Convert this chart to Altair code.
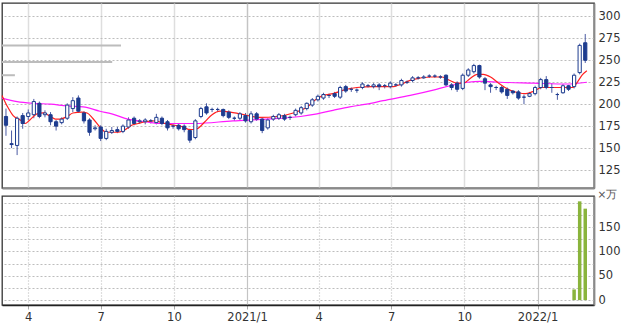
import altair as alt
import pandas as pd

# ---------------- data (weekly candles) ----------------
start_date = "2020-03-04"
opens = [186, 155, 153, 187, 186, 188, 201, 188, 188, 180, 179, 184, 195, 207, 190, 182, 172, 174, 161, 168,
         171, 169, 174, 184, 180, 180, 181, 179, 184, 180, 175, 176, 175, 170, 162, 186, 197, 194, 194, 194,
         191, 184, 184, 187, 180, 189, 183, 173, 183, 184, 187, 185, 188, 190, 195, 199, 205, 207, 210, 212,
         208, 220, 217, 216, 219, 221, 220, 222, 221, 220, 222, 222, 225, 227, 230, 230, 232, 232, 231, 233,
         222, 224, 218, 233, 237, 244, 229, 222, 219, 219, 217, 215, 214, 208, 209, 212, 219, 228, 219, 211,
         213, 221, 220, 236, 270]
closes = [176, 154, 184, 178, 190, 203, 186, 190, 180, 175, 183, 199, 204, 192, 181, 168, 173, 161, 169, 170,
          169, 175, 182, 178, 181, 182, 181, 185, 178, 173, 175, 172, 171, 159, 181, 195, 190, 194, 194, 187,
          185, 184, 189, 181, 189, 183, 170, 182, 186, 188, 183, 185, 193, 196, 201, 205, 209, 211, 210, 209,
          219, 215, 217, 216, 223, 221, 222, 220, 221, 224, 222, 227, 225, 230, 230, 231, 232, 232, 231, 222,
          219, 217, 233, 239, 244, 231, 224, 220, 219, 214, 210, 213, 207, 208, 212, 219, 228, 219, 219, 211,
          221, 217, 233, 267, 250]
highs = [195, 170, 186, 190, 194, 206, 203, 193, 191, 182, 185, 201, 208, 210, 192, 184, 176, 176, 172, 174,
         174, 177, 185, 186, 183, 184, 183, 189, 186, 182, 177, 178, 177, 172, 183, 197, 201, 196, 196, 195,
         193, 186, 191, 190, 192, 191, 185, 184, 188, 190, 189, 187, 195, 198, 202, 207, 211, 213, 212, 214,
         221, 222, 219, 218, 225, 223, 224, 224, 223, 226, 224, 229, 227, 232, 232, 233, 234, 234, 233, 234,
         224, 226, 235, 241, 246, 245, 231, 224, 221, 221, 219, 216, 216, 211, 214, 221, 230, 232, 224, 213,
         223, 222, 235, 269, 280]
lows = [164, 150, 142, 172, 182, 184, 184, 185, 176, 170, 177, 182, 191, 190, 178, 164, 170, 158, 159, 166,
        167, 167, 172, 176, 178, 177, 178, 177, 176, 170, 172, 170, 168, 156, 160, 184, 188, 191, 191, 185,
        183, 181, 182, 179, 178, 181, 167, 171, 181, 182, 181, 182, 186, 188, 193, 197, 203, 205, 207, 207,
        206, 213, 214, 213, 217, 219, 218, 216, 218, 218, 220, 220, 223, 225, 228, 229, 230, 230, 229, 220,
        216, 214, 216, 231, 235, 229, 216, 213, 216, 212, 206, 211, 205, 200, 208, 210, 217, 217, 213, 205,
        212, 215, 218, 234, 247]

# volume (x 10,000 shares), only the last weeks are visible
vol_dates = ["2022-02-16", "2022-02-23", "2022-03-02"]
vol_values = [22, 203, 188]

# price-band volume profile
band_prices = [267, 248, 233]
band_volumes = [203, 188, 22]

# short moving average (red)
ma_s_dates = ["2020-02-28", "2020-03-06", "2020-03-13", "2020-03-22", "2020-03-28", "2020-04-03", "2020-04-12",
              "2020-04-20", "2020-04-29", "2020-05-05", "2020-05-11", "2020-05-20", "2020-05-27", "2020-06-07",
              "2020-06-14", "2020-06-21", "2020-06-30", "2020-07-08", "2020-07-15", "2020-07-23", "2020-08-01",
              "2020-08-09", "2020-08-17", "2020-08-26", "2020-09-07", "2020-09-20", "2020-10-02", "2020-10-13",
              "2020-10-21", "2020-10-30", "2020-11-09", "2020-11-18", "2020-11-28", "2020-12-11", "2020-12-23",
              "2021-01-17", "2021-02-08", "2021-02-28", "2021-03-18", "2021-03-28", "2021-04-07", "2021-04-19",
              "2021-05-02", "2021-05-19", "2021-06-08", "2021-07-03", "2021-07-08", "2021-07-28", "2021-08-19",
              "2021-09-03", "2021-09-13", "2021-09-22", "2021-09-30", "2021-10-08", "2021-10-17", "2021-10-25",
              "2021-11-03", "2021-11-13", "2021-11-25", "2021-12-08", "2021-12-17", "2021-12-25", "2022-01-07",
              "2022-01-20", "2022-02-01", "2022-02-14", "2022-02-20", "2022-02-26", "2022-03-04"]
ma_s_values = [210, 197, 187, 182, 178, 182, 189, 190, 186, 183, 183, 186, 190, 191, 190, 184, 174, 168, 168,
               168, 171, 176, 178, 180, 181, 178, 176, 174, 171, 172, 180, 188, 192, 191, 189, 185, 186, 190,
               197, 205, 210, 212, 216, 219, 220, 220, 221, 228, 231, 231, 227, 224, 224, 229, 234, 234, 231,
               224, 217, 213, 212, 214, 219, 219, 219, 219, 225, 233, 238]

# long moving average (magenta)
ma_l_dates = ["2020-02-28", "2020-03-18", "2020-04-07", "2020-04-29", "2020-05-20", "2020-06-09", "2020-06-30",
              "2020-07-15", "2020-08-04", "2020-08-26", "2020-09-16", "2020-10-06", "2020-10-28", "2020-12-14",
              "2021-01-26", "2021-03-09", "2021-03-30", "2021-04-19", "2021-05-10", "2021-05-31", "2021-06-21",
              "2021-07-25", "2021-08-23", "2021-09-13", "2021-10-05", "2021-10-21", "2021-11-15", "2021-12-27",
              "2022-02-07", "2022-03-04"]
ma_l_values = [207, 203, 201, 200, 198, 197, 192, 189, 183, 180, 178, 178, 178, 181, 183, 186, 189, 193, 197,
               200, 204, 210, 216, 221, 225, 226, 225, 224, 223, 225]

price_ticks = [125, 150, 175, 200, 225, 250, 275, 300]
vol_ticks = [0, 25, 50, 75, 100, 125, 150, 175, 200]

# ---------------- tables ----------------
dates = pd.date_range(start_date, periods=len(opens), freq="7D").strftime("%Y-%m-%d")
candles = pd.DataFrame({"date": dates, "open": opens, "close": closes, "high": highs, "low": lows})
vol_df = pd.DataFrame({"date": vol_dates, "vol": vol_values})
band_df = pd.DataFrame({"price": band_prices, "vol": band_volumes, "zero": [0] * len(band_prices)})
ma_s_df = pd.DataFrame({"date": ma_s_dates, "v": ma_s_values})
ma_l_df = pd.DataFrame({"date": ma_l_dates, "v": ma_l_values})

# ---------------- styling ----------------
W = 592
FONT = "DejaVu Sans"
NAVY = "#1d3c8f"
xdomain = [alt.DateTime(year=2020, month=2, date=28, utc=True),
           alt.DateTime(year=2022, month=3, date=13, utc=True)]
quarters = [alt.DateTime(year=y, month=m, date=1, utc=True)
            for (y, m) in [(2020, 4), (2020, 7), (2020, 10), (2021, 1), (2021, 4), (2021, 7), (2021, 10), (2022, 1)]]
xscale = alt.Scale(type="utc", domain=xdomain, padding=0, nice=False)
yscale = alt.Scale(domain=[104.5, 315.3], nice=False, zero=False, padding=0)
is_year = "utcmonth(datum.value) == 0"

x_price_axis = alt.Axis(values=quarters, labels=False, ticks=False, title=None, grid=True,
                        domain=True, domainColor="#8a8a8a", domainWidth=2.2,
                        gridColor={"condition": {"test": is_year, "value": "#c4c4c4"}, "value": "#dedede"},
                        gridWidth=1.5, labelPadding=0)
y_price_axis = alt.Axis(orient="right", values=price_ticks, grid=True, gridDash=[2, 2], gridColor="#bdbdbd",
                        ticks=False, tickSize=0, domain=True, domainColor="#8a8a8a", domainWidth=1.8,
                        labelPadding=4, title=None, labelOverlap=False,
                        labelFont=FONT, labelFontSize=11.5, labelColor="#333")

X = alt.X("date:T", scale=xscale, axis=x_price_axis)
Yp = lambda f: alt.Y(f, scale=yscale, axis=y_price_axis)

wick = alt.Chart(candles).mark_rule(color="#4b5ba3", strokeWidth=1).encode(
    x=X, y=Yp("low:Q"), y2="high:Q")
body = alt.Chart(candles).mark_bar(size=3.2, strokeWidth=1, stroke=NAVY).encode(
    x=X, y=Yp("open:Q"), y2="close:Q",
    fill=alt.condition("datum.close >= datum.open", alt.value("white"), alt.value(NAVY)))
ma_l = alt.Chart(ma_l_df).mark_line(color="#ff1aff", strokeWidth=1.2, interpolate="monotone").encode(
    x=X, y=Yp("v:Q"))
ma_s = alt.Chart(ma_s_df).mark_line(color="#ff2020", strokeWidth=1.2, interpolate="monotone").encode(
    x=X, y=Yp("v:Q"))

profile = alt.Chart(band_df).mark_rule(color="#bcbcbc", strokeWidth=2).encode(
    x=alt.X("zero:Q", scale=alt.Scale(domain=[0, 1010], nice=False, padding=0), axis=None),
    x2="vol:Q",
    y=Yp("price:Q"))

price_panel = alt.layer(profile, alt.layer(wick, ma_l, ma_s, body)).resolve_scale(x="independent").properties(
    width=W, height=185)

vol_x_axis = alt.Axis(values=quarters, title=None, grid=True,
                      gridDash={"condition": {"test": is_year, "value": [1, 0]}, "value": [1, 2]},
                      gridColor={"condition": {"test": is_year, "value": "#c4c4c4"}, "value": "#bdbdbd"},
                      gridWidth=1.2, domain=True, domainColor="#222", domainWidth=1.5,
                      tickSize=4, tickColor="#aaa", labelPadding=2,
                      labelFont=FONT, labelFontSize=11.5, labelColor="#333", labelOverlap=False,
                      labelExpr="utcmonth(datum.value) == 0 ? utcyear(datum.value) + '/1' : '' + (utcmonth(datum.value) + 1)")
vol_y_axis = alt.Axis(orient="right", values=vol_ticks, grid=True, gridDash=[2, 2], gridColor="#bdbdbd",
                      ticks=False, tickSize=0, domain=True, domainColor="#8a8a8a", domainWidth=1.8,
                      labelPadding=4, labelOverlap=False,
                      labelExpr="datum.value % 50 == 0 && datum.value < 200 ? datum.label : ''",
                      labelFont=FONT, labelFontSize=11.5, labelColor="#333",
                      title="×万", titleAngle=0, titleX=3, titleY=-2, titleAlign="left", titleBaseline="middle",
                      titleFont=FONT, titleFontSize=10.5, titleFontWeight="normal", titleColor="#555")

vol_panel = alt.Chart(vol_df).mark_bar(size=3.5, color="#8ab43c").encode(
    x=alt.X("date:T", scale=xscale, axis=vol_x_axis),
    y=alt.Y("vol:Q", scale=alt.Scale(domain=[-10, 214], nice=False, zero=False, padding=0), axis=vol_y_axis),
    y2=alt.datum(0),
).properties(width=W, height=109)

chart = alt.vconcat(price_panel, vol_panel, spacing=8, bounds="flush").properties(
    padding={"left": -2, "top": 2, "right": 0, "bottom": 0},
    background="white",
).configure_view(stroke="#333", strokeWidth=1.3)

chart.save("out.html", embed_options={"renderer": "svg", "actions": False})
